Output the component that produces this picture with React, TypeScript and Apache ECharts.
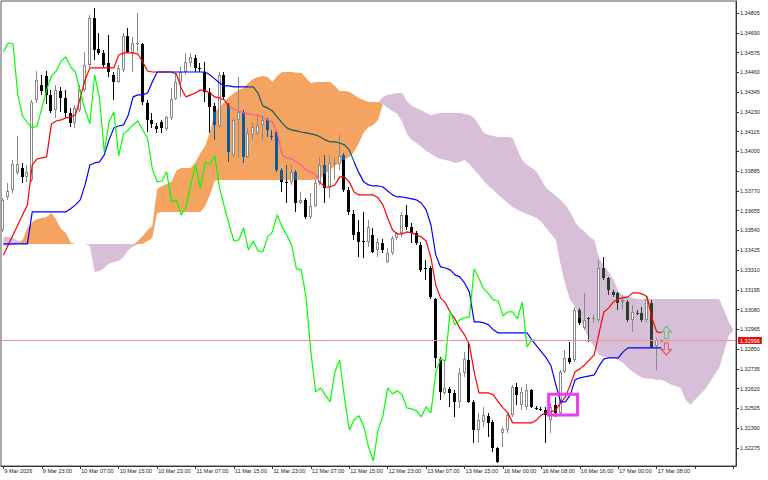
import React, { useEffect, useRef } from "react";
import * as echarts from "echarts";

// ---------- axis texts ----------
const timeLabels = ["9 Mar 2026", "9 Mar 23:00", "10 Mar 07:00", "10 Mar 15:00", "10 Mar 23:00", "11 Mar 07:00", "11 Mar 15:00", "11 Mar 23:00", "12 Mar 07:00", "12 Mar 15:00", "12 Mar 23:00", "13 Mar 07:00", "13 Mar 15:00", "16 Mar 00:00", "16 Mar 08:00", "16 Mar 16:00", "17 Mar 00:00", "17 Mar 08:00"];
const labelStep = 8;
const slotCount = 153;
const priceTicks = [1.32275, 1.3239, 1.32505, 1.3262, 1.32735, 1.3285, 1.32965, 1.3308, 1.33195, 1.3331, 1.33425, 1.3354, 1.33655, 1.3377, 1.33885, 1.34, 1.34115, 1.3423, 1.34345, 1.3446, 1.34575, 1.3469, 1.34805];
const priceMin = 1.3217;
const priceMax = 1.34875;
const priceLabel = "1.32996";

// ---------- candles (H1) ----------
const opens = [1.33543,1.33735,1.33776,1.33875,1.33904,1.33852,1.33834,1.34299,1.34387,1.34439,1.34329,1.34241,1.34352,1.34311,1.34224,1.34166,1.34241,1.34358,1.34503,1.34776,1.34596,1.34573,1.34515,1.34445,1.34404,1.34474,1.34672,1.34573,1.34625,1.34625,1.34282,1.34183,1.34148,1.34172,1.34131,1.34195,1.34305,1.34404,1.34462,1.34515,1.34544,1.34486,1.34462,1.34346,1.34265,1.34148,1.34445,1.3427,1.3398,1.34183,1.3423,1.33968,1.34096,1.34108,1.34154,1.34183,1.3409,1.34113,1.33892,1.33823,1.33823,1.33881,1.337,1.33718,1.33619,1.33683,1.33817,1.33921,1.33793,1.33927,1.33927,1.3398,1.33776,1.33636,1.33532,1.33479,1.33474,1.33514,1.33427,1.33468,1.33357,1.3341,1.33497,1.33526,1.33631,1.33561,1.33526,1.33456,1.33322,1.33322,1.33142,1.32793,1.32595,1.32619,1.32595,1.32543,1.32712,1.32787,1.32543,1.3238,1.32427,1.32462,1.32427,1.32275,1.32363,1.3238,1.32467,1.3263,1.32526,1.32514,1.32613,1.32508,1.32502,1.32496,1.32438,1.32526,1.32479,1.32718,1.32799,1.32787,1.33078,1.32973,1.33032,1.33026,1.3302,1.33322,1.33264,1.33183,1.33177,1.33125,1.33125,1.3302,1.33061,1.33061,1.3302,1.33119,1.32869,1.32898];
const highs = [1.3373,1.33817,1.3395,1.3409,1.33933,1.33921,1.34299,1.34468,1.34445,1.34468,1.34358,1.34387,1.34375,1.34358,1.34253,1.3427,1.34387,1.34579,1.34794,1.34835,1.34689,1.3459,1.34677,1.34462,1.34503,1.34689,1.34718,1.34666,1.34806,1.34631,1.34299,1.34224,1.34166,1.34183,1.34206,1.34369,1.34457,1.34491,1.34573,1.34573,1.34561,1.34515,1.3452,1.34369,1.34282,1.34462,1.34462,1.34282,1.34195,1.34433,1.34241,1.34137,1.34172,1.34212,1.34212,1.34195,1.34125,1.34125,1.33904,1.33921,1.33921,1.33892,1.33764,1.3373,1.33759,1.33834,1.33968,1.3398,1.3398,1.33962,1.34096,1.33991,1.33793,1.3366,1.33602,1.33648,1.33602,1.33555,1.33497,1.33491,1.33439,1.33508,1.33532,1.33648,1.33689,1.33584,1.33538,1.33474,1.33369,1.33334,1.33148,1.32805,1.32787,1.3263,1.32613,1.32741,1.32834,1.32892,1.32555,1.32479,1.32514,1.32479,1.32438,1.32281,1.32398,1.32479,1.32642,1.32654,1.3263,1.32648,1.32619,1.3252,1.32514,1.32514,1.32537,1.32572,1.32729,1.32845,1.32892,1.33096,1.3309,1.33177,1.33037,1.33049,1.33369,1.33386,1.3327,1.33194,1.33183,1.33165,1.33136,1.33107,1.33078,1.33096,1.33154,1.33136,1.32915,1.3291];
const lows = [1.33532,1.33718,1.33759,1.33863,1.33817,1.33823,1.33823,1.34282,1.34329,1.34276,1.34224,1.34195,1.3423,1.34195,1.34142,1.34137,1.3423,1.34346,1.34491,1.34532,1.34561,1.34491,1.34433,1.34299,1.34398,1.34462,1.34573,1.34462,1.34579,1.3427,1.34113,1.34137,1.34108,1.34108,1.34119,1.34183,1.34299,1.34317,1.34445,1.34491,1.34462,1.34462,1.34288,1.34108,1.34067,1.34137,1.34299,1.33939,1.33968,1.33968,1.33933,1.33962,1.34067,1.34096,1.34067,1.34084,1.34067,1.33881,1.33764,1.337,1.33805,1.33648,1.33695,1.33607,1.33607,1.33677,1.33805,1.337,1.3373,1.33834,1.33892,1.33764,1.33631,1.33485,1.33386,1.33381,1.33445,1.3341,1.33386,1.3341,1.33351,1.33398,1.33485,1.33503,1.33543,1.33468,1.33456,1.33299,1.33253,1.33142,1.32741,1.32555,1.32584,1.32514,1.32456,1.32508,1.32688,1.32537,1.32305,1.32305,1.32398,1.32339,1.32252,1.32188,1.32281,1.32363,1.32456,1.32526,1.32496,1.32496,1.32508,1.32496,1.32491,1.32305,1.32363,1.32456,1.32467,1.32712,1.32764,1.32776,1.32991,1.32962,1.32892,1.33003,1.33008,1.33253,1.33165,1.33154,1.33078,1.33078,1.33008,1.3295,1.33049,1.33008,1.33008,1.32857,1.32729,1.32892];
const closes = [1.33718,1.3377,1.33927,1.33927,1.33852,1.33881,1.34288,1.34416,1.34352,1.34329,1.34235,1.34358,1.34311,1.34224,1.34166,1.34253,1.34363,1.34503,1.34776,1.3459,1.34573,1.34503,1.34462,1.34404,1.34486,1.34672,1.34579,1.34631,1.34631,1.34288,1.34183,1.3416,1.34131,1.34137,1.34201,1.34305,1.34404,1.34462,1.3452,1.3455,1.34486,1.34483,1.34346,1.34259,1.34154,1.34445,1.34317,1.33997,1.34183,1.3423,1.33968,1.34108,1.34142,1.34154,1.34183,1.34125,1.34084,1.33892,1.33823,1.3382,1.33881,1.337,1.33718,1.33619,1.33683,1.33817,1.33921,1.33788,1.33933,1.33933,1.33974,1.33776,1.33648,1.33514,1.33474,1.33476,1.33561,1.33415,1.33474,1.33427,1.3341,1.33497,1.33526,1.33631,1.33561,1.33526,1.33468,1.33311,1.33319,1.33154,1.32799,1.32601,1.32624,1.32595,1.32543,1.32712,1.32793,1.32543,1.3238,1.32438,1.32467,1.32421,1.32275,1.32194,1.32386,1.32467,1.3263,1.32584,1.32601,1.32613,1.32514,1.32505,1.325,1.32467,1.32514,1.32479,1.32718,1.32799,1.32776,1.33078,1.33003,1.3302,1.3303,1.33032,1.33322,1.33264,1.33194,1.33165,1.33119,1.33136,1.3302,1.33066,1.33058,1.3302,1.33136,1.32863,1.32904,1.329];

// ---------- Ichimoku lines ----------
const tenkan = [1.33398,1.33456,1.33514,1.33572,1.33631,1.33689,1.33921,1.33956,1.33962,1.33968,1.3416,1.34177,1.34183,1.34195,1.34201,1.34212,1.34311,1.34416,1.34486,1.34486,1.34486,1.34486,1.34486,1.34486,1.34561,1.34573,1.34573,1.34573,1.34567,1.3452,1.34468,1.34462,1.34462,1.34462,1.34462,1.34462,1.34451,1.34369,1.34317,1.34329,1.3434,1.34358,1.34352,1.3434,1.34317,1.34311,1.34299,1.34259,1.34247,1.34235,1.34224,1.34218,1.34212,1.34212,1.34195,1.34183,1.34172,1.34108,1.3398,1.33962,1.33956,1.33939,1.33921,1.33892,1.33881,1.33863,1.33817,1.33793,1.33793,1.33805,1.33852,1.33852,1.33823,1.33764,1.33747,1.33747,1.33747,1.33747,1.3373,1.33689,1.33613,1.33543,1.3352,1.3352,1.33532,1.33526,1.33514,1.33503,1.33479,1.33381,1.33223,1.33148,1.33119,1.33066,1.33026,1.32973,1.32933,1.32875,1.32718,1.32595,1.32595,1.32595,1.32584,1.32543,1.32508,1.32479,1.32421,1.32421,1.32421,1.32421,1.32421,1.32438,1.32467,1.32479,1.32485,1.32496,1.32537,1.32572,1.32642,1.32718,1.32735,1.32758,1.32787,1.32816,1.32944,1.33066,1.3309,1.33125,1.33142,1.33148,1.33154,1.33177,1.33177,1.33171,1.33154,1.33032,1.3295,1.32944];
const kijun = [1.33462,1.33462,1.33462,1.33462,1.33462,1.33462,1.33648,1.33648,1.33648,1.33648,1.33648,1.33648,1.33648,1.33648,1.33666,1.33689,1.33718,1.33805,1.33921,1.33933,1.33939,1.3398,1.34067,1.34137,1.34148,1.34154,1.34212,1.34317,1.34329,1.34329,1.3434,1.34404,1.34462,1.34462,1.34462,1.34462,1.34462,1.34462,1.34462,1.34462,1.34462,1.34462,1.34462,1.34445,1.34422,1.34398,1.34381,1.34381,1.34375,1.34375,1.34375,1.34375,1.34375,1.3434,1.34265,1.34253,1.34235,1.34201,1.34166,1.34137,1.34125,1.34119,1.34113,1.34108,1.34102,1.34096,1.34084,1.34067,1.34055,1.34055,1.34049,1.34038,1.34009,1.33939,1.33875,1.33823,1.33805,1.33799,1.33799,1.33793,1.3377,1.33747,1.33735,1.33735,1.3373,1.33724,1.33718,1.337,1.3366,1.33572,1.33398,1.33328,1.33322,1.33311,1.33282,1.3327,1.33235,1.33183,1.33008,1.33008,1.33003,1.32991,1.32962,1.32944,1.32944,1.32944,1.32944,1.32944,1.32944,1.32944,1.32904,1.32869,1.32834,1.32799,1.32752,1.32642,1.32543,1.32543,1.32584,1.32671,1.32683,1.32688,1.32694,1.327,1.32752,1.32793,1.32799,1.32799,1.32799,1.32834,1.32857,1.32857,1.32857,1.32857,1.32857,1.32857,1.32857,1.32857];
const chikou = [1.34579,1.34631,1.34625,1.34329,1.34206,1.34166,1.34137,1.34148,1.34253,1.34358,1.34439,1.34468,1.34526,1.3455,1.34491,1.34462,1.3434,1.34241,1.3416,1.34445,1.34311,1.33997,1.34172,1.3423,1.33974,1.34102,1.34125,1.34154,1.34177,1.34125,1.34078,1.33898,1.33823,1.33828,1.33881,1.33706,1.33718,1.33631,1.33677,1.33805,1.33921,1.33788,1.33933,1.33927,1.33974,1.33788,1.33677,1.33572,1.33479,1.33485,1.33555,1.33427,1.33479,1.33421,1.33415,1.33503,1.33532,1.33631,1.33561,1.33514,1.33456,1.33317,1.33311,1.33154,1.32834,1.32601,1.32624,1.32584,1.32543,1.32718,1.32787,1.32566,1.3238,1.32438,1.32462,1.32403,1.32281,1.322,1.3238,1.32462,1.32624,1.3259,1.32607,1.32584,1.32508,1.32502,1.32491,1.32456,1.32514,1.32479,1.32712,1.32793,1.32781,1.33072,1.32991,1.3302,1.33032,1.33037,1.33317,1.33259,1.332,1.33171,1.33136,1.3313,1.33043,1.33066,1.33066,1.33026,1.33125,1.32863,1.32904,1.329];
const spanA = [1.3345,1.3345,1.33456,1.33462,1.33485,1.33555,1.3359,1.33607,1.33613,1.33619,1.33642,1.33602,1.33549,1.33526,1.3347,1.33462,1.33462,1.33462,1.3345,1.33299,1.33305,1.33322,1.33346,1.33357,1.33363,1.33386,1.33427,1.33445,1.33479,1.33508,1.33543,1.33566,1.33782,1.33799,1.33811,1.33823,1.33887,1.33904,1.33904,1.33904,1.33939,1.33991,1.34032,1.34113,1.3423,1.34259,1.34288,1.34317,1.3434,1.34358,1.34369,1.34398,1.34422,1.34433,1.34439,1.34433,1.34404,1.34439,1.34462,1.34462,1.34462,1.34457,1.34457,1.34427,1.34398,1.34404,1.34404,1.34404,1.34404,1.34381,1.34352,1.34352,1.34346,1.34329,1.34311,1.34299,1.34288,1.34288,1.34288,1.34276,1.34253,1.34235,1.34218,1.34172,1.34102,1.34067,1.34049,1.34026,1.34003,1.33985,1.33968,1.33956,1.3395,1.33944,1.33933,1.33939,1.3395,1.33927,1.33892,1.33863,1.33828,1.33799,1.33776,1.33747,1.33724,1.337,1.33677,1.3366,1.33648,1.33636,1.33625,1.33613,1.3359,1.33555,1.3352,1.33485,1.3334,1.33223,1.33136,1.33096,1.33032,1.32962,1.32904,1.32863,1.32816,1.32805,1.32799,1.32799,1.32787,1.3277,1.32741,1.32718,1.327,1.32683,1.32677,1.32677,1.32671,1.32671,1.32659,1.32642,1.32636,1.32624,1.32555,1.32526,1.32555,1.32584,1.32613,1.32654,1.327,1.32741,1.32834,1.32927,1.32962];
const spanB = [1.33503,1.33503,1.33497,1.33479,1.33462,1.33462,1.33462,1.33462,1.33462,1.33462,1.33462,1.33462,1.33462,1.33462,1.33462,1.33462,1.33462,1.33462,1.33462,1.33462,1.33462,1.33462,1.33462,1.33462,1.33462,1.33462,1.33462,1.33462,1.33462,1.33462,1.33479,1.33497,1.33642,1.33648,1.33648,1.33648,1.33648,1.33648,1.33648,1.33648,1.33648,1.33648,1.33683,1.33747,1.33828,1.33834,1.33834,1.33834,1.33834,1.33834,1.33834,1.33834,1.33834,1.33834,1.33834,1.33834,1.33834,1.33834,1.33834,1.33834,1.33834,1.33834,1.33834,1.33834,1.33834,1.33834,1.33846,1.33869,1.33892,1.33916,1.33933,1.3395,1.33968,1.33997,1.34049,1.34108,1.34142,1.34154,1.34183,1.34317,1.34329,1.34334,1.3434,1.3434,1.34293,1.34265,1.34253,1.34241,1.34224,1.34212,1.34218,1.34224,1.34224,1.34224,1.34224,1.34224,1.34218,1.34212,1.34195,1.34154,1.34108,1.34096,1.3409,1.34084,1.34084,1.34084,1.34078,1.34009,1.3395,1.33921,1.33904,1.33881,1.33834,1.33788,1.33764,1.33741,1.33718,1.33689,1.33648,1.3359,1.33555,1.33532,1.33503,1.33485,1.3338,1.33334,1.33299,1.33253,1.33189,1.33159,1.33154,1.33148,1.33142,1.33142,1.33142,1.33142,1.33142,1.33142,1.33142,1.33142,1.33142,1.33142,1.33142,1.33142,1.33142,1.33142,1.33142,1.33142,1.33142,1.33142,1.33078,1.33008,1.32962];

// ---------- annotations ----------
const boxBars = [114, 119];
const boxPrices = [1.32588, 1.32466];
const upArrows = [[138, 1.32947]];
const downArrows = [[138, 1.32851]];

const COLORS = {
  orange: "#F4A460",
  purple: "#D8BFD8",
  invOrange: "#0B5B9F",
  invPurple: "#274027",
  tenkan: "#FF0000",
  tenkanInv: "#F45B9F",
  kijun: "#0000FF",
  kijunInv: "#0B5B60",
  chikou: "#00FF00",
  bull: "#8a8a8a",
  bear: "#000000",
};

function cloudPieces(vals: number[], color: string) {
  const eps = 0.00003;
  const pieces: any[] = [];
  let start = -1;
  for (let i = 0; i <= vals.length; i++) {
    const v = vals[i];
    const inside = i < vals.length && spanA[i] - spanB[i] > eps && v < spanA[i] - eps && v > spanB[i] + eps;
    if (inside && start < 0) start = i;
    if (!inside && start >= 0) {
      pieces.push({ gte: start - 0.5, lt: i - 0.5, color });
      start = -1;
    }
  }
  return pieces;
}

function split(a: number, b: number, cTop: number, cBot: number) {
  const segs: [number, number, boolean][] = [];
  const i0 = Math.max(a, cTop);
  const i1 = Math.min(b, cBot);
  if (i1 > i0) {
    if (i0 > a) segs.push([a, i0, false]);
    segs.push([i0, i1, true]);
    if (b > i1) segs.push([i1, b, false]);
  } else segs.push([a, b, false]);
  return segs;
}

const App = () => {
  const ref = useRef<HTMLDivElement>(null);
  useEffect(() => {
    if (!ref.current) return;
    const chart = echarts.init(ref.current, null, { renderer: "svg" });
    const categories = Array.from({ length: slotCount }, (_, i) => String(i));
    const cloudLow = spanA.map((a, i) => Math.min(a, spanB[i]));
    const orangeDiff = spanA.map((a, i) => Math.max(0, a - spanB[i]));
    const purpleDiff = spanA.map((a, i) => Math.max(0, spanB[i] - a));
    const candleData = opens.map((o, i) => [i, o, closes[i], lows[i], highs[i]]);
    const font = "Liberation Sans, Arial, sans-serif";

    const renderCandle = (params: any, api: any) => {
      const i = api.value(0);
      const o = api.value(1), c = api.value(2), l = api.value(3), h = api.value(4);
      const x = Math.round(api.coord([i, o])[0]) - 1;
      const yO = api.coord([i, o])[1], yC = api.coord([i, c])[1];
      const yL = Math.round(api.coord([i, l])[1]), yH = Math.round(api.coord([i, h])[1]);
      const yA = api.coord([i, spanA[i]])[1], yB = api.coord([i, spanB[i]])[1];
      const cTop = Math.min(yA, yB), cBot = Math.max(yA, yB);
      const inv = spanA[i] >= spanB[i] ? COLORS.invOrange : COLORS.invPurple;
      let top = Math.round(Math.min(yO, yC));
      let bot = Math.round(Math.max(yO, yC));
      if (bot - top < 1) bot = top + 1;
      const children: any[] = [];
      if (c >= o) {
        children.push({ type: "rect", shape: { x, y: yH, width: 1, height: Math.max(1, yL - yH) }, style: { fill: COLORS.bull } });
        children.push({ type: "rect", shape: { x: x - 1, y: top, width: 3, height: bot - top }, style: { fill: COLORS.bull } });
        if (bot - top > 2) children.push({ type: "rect", shape: { x, y: top + 1, width: 1, height: bot - top - 2 }, style: { fill: "#ffffff" } });
      } else {
        split(yH, Math.max(yL, yH + 1), cTop, cBot).forEach(([s, e, ins]) =>
          children.push({ type: "rect", shape: { x, y: s, width: 1, height: e - s }, style: { fill: ins ? inv : COLORS.bear } })
        );
        split(top, bot, cTop, cBot).forEach(([s, e, ins]) =>
          children.push({ type: "rect", shape: { x: x - 1, y: s, width: 3, height: e - s }, style: { fill: ins ? inv : COLORS.bear } })
        );
      }
      return { type: "group", children };
    };

    const renderBox = (params: any, api: any) => {
      const bw = api.size([1, 0])[0];
      const p0 = api.coord([api.value(0), api.value(2)]);
      const p1 = api.coord([api.value(1), api.value(3)]);
      return {
        type: "rect",
        shape: { x: p0[0] - bw / 2, y: p0[1], width: p1[0] - p0[0] + bw, height: p1[1] - p0[1] },
        style: { fill: "none", stroke: "#F03CF0", lineWidth: 3 },
      };
    };

    const hidden = { width: 0, opacity: 0 };
    const option: any = {
      animation: false,
      backgroundColor: "#ffffff",
      grid: { left: 1, right: 32, top: 1, bottom: 14, show: true, borderColor: "#555", borderWidth: 1, containLabel: false, outerBoundsMode: "none" },
      xAxis: {
        type: "category",
        data: categories,
        boundaryGap: true,
        axisLine: { show: true, onZero: false, lineStyle: { color: "#333", width: 1 } },
        axisTick: { show: true, interval: labelStep - 1, alignWithLabel: true, length: 3, lineStyle: { color: "#333" } },
        axisLabel: {
          interval: labelStep - 1,
          formatter: (v: string, idx: number) => timeLabels[idx / labelStep] ?? "",
          align: "left",
          fontSize: 5.5,
          fontFamily: font,
          color: "#222",
          margin: 2,
          padding: [0, 0, 0, 1],
        },
        splitLine: { show: false },
      },
      yAxis: {
        type: "value",
        position: "right",
        min: priceMin,
        max: priceMax,
        axisLine: { show: true, lineStyle: { color: "#333", width: 1 } },
        axisTick: { show: true, length: 3, lineStyle: { color: "#333" }, customValues: priceTicks },
        axisLabel: { customValues: priceTicks, formatter: (v: number) => v.toFixed(5), fontSize: 5.5, fontFamily: font, color: "#222", margin: 4 },
        splitLine: { show: false },
      },
      visualMap: [
        { type: "piecewise", show: false, seriesIndex: 4, dimension: 0, pieces: cloudPieces(tenkan, COLORS.tenkanInv), outOfRange: { color: COLORS.tenkan } },
        { type: "piecewise", show: false, seriesIndex: 5, dimension: 0, pieces: cloudPieces(kijun, COLORS.kijunInv), outOfRange: { color: COLORS.kijun } },
      ],
      series: [
        { type: "line", z: 1, stack: "cloud", stackStrategy: "all", data: cloudLow, symbol: "none", silent: true, lineStyle: hidden },
        { type: "line", z: 1, stack: "cloud", stackStrategy: "all", data: orangeDiff, symbol: "none", silent: true, lineStyle: hidden, areaStyle: { color: COLORS.orange, opacity: 1 } },
        { type: "line", z: 1, stack: "cloud", stackStrategy: "all", data: purpleDiff, symbol: "none", silent: true, lineStyle: hidden, areaStyle: { color: COLORS.purple, opacity: 1 } },
        { type: "custom", z: 3, data: candleData, renderItem: renderCandle, encode: { x: 0, y: [1, 2, 3, 4] }, clip: true, silent: true },
        { type: "line", z: 4, data: tenkan, symbol: "none", silent: true, lineStyle: { width: 1.2 } },
        { type: "line", z: 4, data: kijun, symbol: "none", silent: true, lineStyle: { width: 1.2 } },
        {
          type: "line",
          z: 4,
          data: chikou,
          symbol: "none",
          silent: true,
          lineStyle: { width: 1.2, color: COLORS.chikou },
          markLine: {
            silent: true,
            precision: 5,
            symbol: ["none", "none"],
            animation: false,
            data: [{ yAxis: closes[closes.length - 1] }],
            lineStyle: { color: "#E89393", width: 1, type: "solid" },
            label: { show: true, position: "end", distance: 2, formatter: priceLabel, color: "#ffffff", backgroundColor: "#E01010", fontSize: 5.5, fontFamily: font, padding: [1, 2, 0, 2] },
          },
        },
        { type: "custom", z: 5, data: [[boxBars[0], boxBars[1], boxPrices[0], boxPrices[1]]], renderItem: renderBox, encode: { x: [0, 1], y: [2, 3] }, silent: true },
        { type: "scatter", z: 6, data: upArrows, symbol: "path://M5,0L10,5L7,5L7,11L3,11L3,5L0,5Z", symbolSize: [10, 12], silent: true, itemStyle: { color: "rgba(0,0,0,0)", borderColor: "#3CC83C", borderWidth: 1 } },
        { type: "scatter", z: 6, data: downArrows, symbol: "path://M3,0L7,0L7,6L10,6L5,11L0,6L3,6Z", symbolSize: [10, 12], silent: true, itemStyle: { color: "rgba(0,0,0,0)", borderColor: "#F03030", borderWidth: 1 } },
      ],
    };
    chart.setOption(option);
    return () => chart.dispose();
  }, []);
  return <div ref={ref} style={{ position: "fixed", left: 0, top: 0, width: 768, height: 480, background: "#fff" }} />;
};

export default App;
